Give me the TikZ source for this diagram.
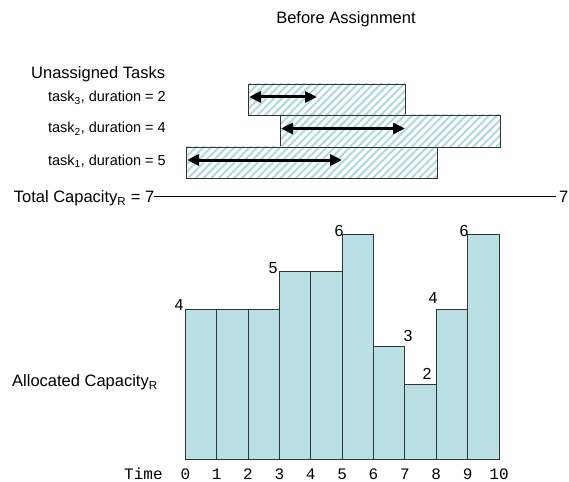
\documentclass[tikz,border=0pt]{standalone}
\usepackage{fontspec}
\setmainfont{Liberation Sans}
\setmonofont{Liberation Mono}
\usetikzlibrary{arrows.meta}
\definecolor{capfill}{HTML}{BBE0E3}
\definecolor{hatchcol}{HTML}{AEDADF}
\begin{document}
\begin{tikzpicture}[x=1pt,y=-1pt,
  lbl/.style={font=\fontsize{16.5}{19}\selectfont, inner sep=0pt},
  tasklbl/.style={font=\fontsize{14.5}{17}\selectfont, inner sep=0pt, anchor=base east},
  vallbl/.style={font=\fontsize{16}{19}\selectfont, inner sep=0pt},
  mono/.style={font=\ttfamily\fontsize{16}{18}\selectfont, inner sep=0pt, anchor=base},
  taskbox/.style={draw=black!80, line width=0.8pt},
  stripe/.style={draw=hatchcol, line width=2pt},
  dur/.style={line width=3pt, {Triangle[length=12pt,width=11pt]}-{Triangle[length=12pt,width=11pt]}},
  bar/.style={draw=black!80, fill=capfill, line width=0.8pt},
  capline/.style={line width=1.6pt}
]
\useasboundingbox (0,0) rectangle (569,481);

% title and headings
\node[lbl, anchor=base] (title) at (346,24) {Before Assignment};
\node[lbl, anchor=base west] (unas) at (31,79) {Unassigned Tasks};

% task labels
\node[tasklbl] (l3) at (166,102) {task\textsubscript{3}, duration = 2};
\node[tasklbl] (l2) at (166,133) {task\textsubscript{2}, duration = 4};
\node[tasklbl] (l1) at (166,165) {task\textsubscript{1}, duration = 5};

% hatched task windows
\foreach \xa/\ya/\xb/\yb in {248/84/405/115, 280/115/500/147, 186/147/437/178}{
  \begin{scope}
    \clip (\xa,\ya) rectangle (\xb,\yb);
    \foreach \s in {140,147.7,...,520}
      \draw[stripe] (\s,\yb+2) -- ++(40,-40);
  \end{scope}
  \draw[taskbox] (\xa,\ya) rectangle (\xb,\yb);
}

% task durations
\coordinate (d3a) at (249,97);   \coordinate (d3b) at (317,97);
\coordinate (d2a) at (281,128.5); \coordinate (d2b) at (405,128.5);
\coordinate (d1a) at (187,160);  \coordinate (d1b) at (342,160);
\draw[dur] (d3a) -- (d3b);
\draw[dur] (d2a) -- (d2b);
\draw[dur] (d1a) -- (d1b);

% total capacity
\node[lbl, anchor=base east] (tc) at (154.5,202.7) {Total Capacity\textsubscript{R} = 7};
\node[lbl, anchor=base west] (tcr) at (559,202.7) {7};
\coordinate (capa) at (153.5,196.5);
\coordinate (capb) at (556,196.5);
\draw[capline] (capa) -- (capb);

% allocated capacity bars
\foreach \i/\v in {0/4,1/4,2/4,3/5,4/5,5/6,6/3,7/2,8/4,9/6}{
  \draw[bar] (185.3+31.37*\i,459) rectangle (185.3+31.37*\i+31.37,459-37.5*\v);
}
\node[lbl, anchor=base west] (alloc) at (12,386.7) {Allocated Capacity\textsubscript{R}};

% bar values
\node[vallbl] (v0) at (179,305) {4};
\node[vallbl] (v3) at (273,268) {5};
\node[vallbl] (v5) at (339,231) {6};
\node[vallbl] (v6) at (408,336) {3};
\node[vallbl] (v7) at (427,374) {2};
\node[vallbl] (v8) at (433,298) {4};
\node[vallbl] (v9) at (464,231) {6};

% time axis
\node[mono, anchor=base west] (time) at (124,479.3) {Time};
\foreach \i in {0,...,10}
  \node[mono] (t\i) at (185.3+31.37*\i,479.3) {\i};
\end{tikzpicture}
\end{document}
